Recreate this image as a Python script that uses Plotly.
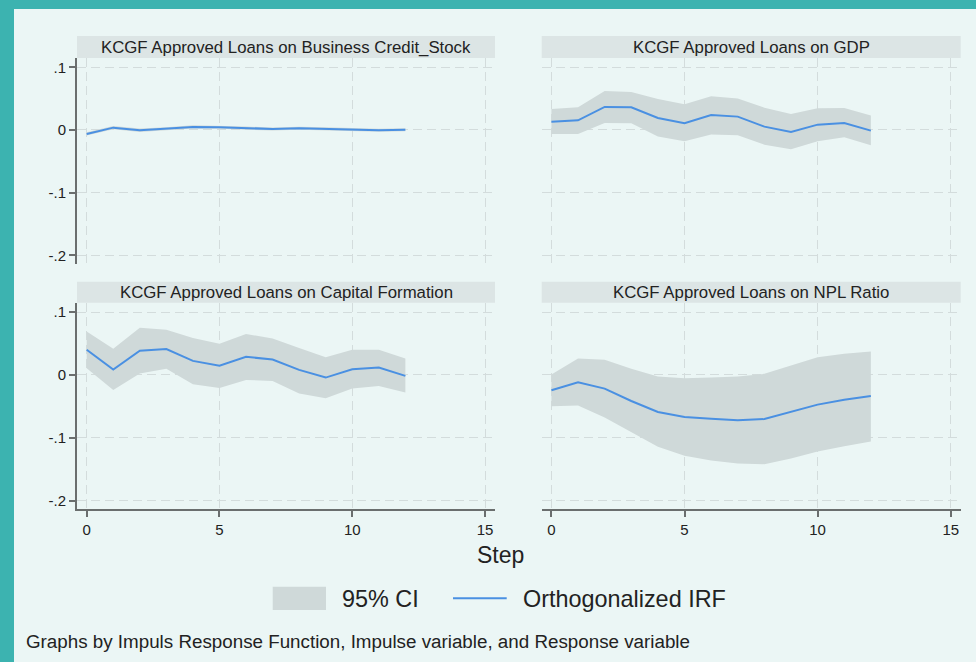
import plotly.graph_objects as go

W, H = 976, 662

steps = list(range(13))

panel_titles = [
    "KCGF Approved Loans on Business Credit_Stock",
    "KCGF Approved Loans on GDP",
    "KCGF Approved Loans on Capital Formation",
    "KCGF Approved Loans on NPL Ratio",
]

# Business Credit_Stock
bcs_irf = [-0.0064, 0.0037, -0.0005, 0.0016, 0.0048, 0.0043, 0.0030, 0.0016, 0.0027, 0.0020, 0.0010, -0.0005, 0.0005]
bcs_lo = [-0.0090, 0.0010, -0.0032, -0.0010, 0.0022, 0.0018, 0.0006, -0.0008, 0.0003, -0.0004, -0.0014, -0.0029, -0.0019]
bcs_hi = [-0.0038, 0.0064, 0.0022, 0.0042, 0.0074, 0.0068, 0.0054, 0.0040, 0.0051, 0.0044, 0.0034, 0.0019, 0.0029]

# GDP
gdp_irf = [0.0133, 0.0154, 0.0367, 0.0362, 0.0191, 0.0106, 0.0239, 0.0213, 0.0053, -0.0032, 0.0085, 0.0112, -0.0011]
gdp_lo = [-0.0064, -0.0064, 0.0112, 0.0106, -0.0106, -0.0181, -0.0074, -0.0085, -0.0234, -0.0309, -0.0181, -0.0117, -0.0245]
gdp_hi = [0.0335, 0.0362, 0.0622, 0.0606, 0.0495, 0.0410, 0.0537, 0.0500, 0.0356, 0.0255, 0.0346, 0.0351, 0.0229]

# Capital Formation
cf_irf = [0.0399, 0.0085, 0.0383, 0.0410, 0.0223, 0.0144, 0.0287, 0.0245, 0.0080, -0.0043, 0.0090, 0.0117, -0.0016]
cf_lo = [0.0106, -0.0239, 0.0021, 0.0096, -0.0149, -0.0207, -0.0080, -0.0096, -0.0298, -0.0372, -0.0218, -0.0176, -0.0282]
cf_hi = [0.0691, 0.0415, 0.0750, 0.0718, 0.0585, 0.0495, 0.0649, 0.0580, 0.0426, 0.0282, 0.0399, 0.0399, 0.0261]

# NPL Ratio
npl_irf = [-0.0245, -0.0117, -0.0218, -0.0415, -0.0590, -0.0670, -0.0697, -0.0723, -0.0702, -0.0585, -0.0473, -0.0394, -0.0335]
npl_lo = [-0.0500, -0.0489, -0.0676, -0.0915, -0.1144, -0.1287, -0.1362, -0.1410, -0.1420, -0.1330, -0.1218, -0.1134, -0.1059]
npl_hi = [0.0005, 0.0260, 0.0239, 0.0096, -0.0027, -0.0053, -0.0043, -0.0027, 0.0016, 0.0154, 0.0282, 0.0335, 0.0372]

x_tickvals = [0, 5, 10, 15]
x_ticktext = ["0", "5", "10", "15"]
y_tickvals = [0.1, 0, -0.1, -0.2]
y_ticktext = [".1", "0", "-.1", "-.2"]

legend_ci = "95% CI"
legend_irf = "Orthogonalized IRF"
x_title = "Step"
note_text = "Graphs by Impuls Response Function, Impulse variable, and Response variable"

series = [
    (bcs_irf, bcs_lo, bcs_hi),
    (gdp_irf, gdp_lo, gdp_hi),
    (cf_irf, cf_lo, cf_hi),
    (npl_irf, npl_lo, npl_hi),
]

# ---- styling ----
FONT = "Liberation Sans, Arial, Helvetica, sans-serif"
TEAL = "#3CB3B0"
BG = "#EBF6F5"
STRIP = "#DCE5E5"
CI_FILL = "#CFD9D9"
BLUE = "#4A90E2"
GRID = "#D3DCDC"
AXIS = "#6A6E6E"
TXT = "#222222"


def px(x):
    return x / W


def py(y):
    return 1 - y / H


# plot area pixel boxes: (x0, x1, y0_top, y1_bottom)
boxes = [
    (77, 495, 58, 264),
    (541.7, 960.7, 58, 264),
    (77, 495, 302.7, 509.3),
    (541.7, 960.7, 302.7, 509.3),
]
strips = [
    (77, 495, 36, 58),
    (541.7, 960.7, 36, 58),
    (77, 495, 281.7, 302.7),
    (541.7, 960.7, 281.7, 302.7),
]

fig = go.Figure()
layout = dict(
    width=W, height=H, autosize=False,
    margin=dict(l=0, r=0, t=0, b=0, pad=0),
    paper_bgcolor=TEAL, plot_bgcolor=BG,
    showlegend=False,
    font=dict(family=FONT, color=TXT),
)

XR = [-0.365, 15.375]
YR = [-0.2138, 0.1148]

for i, ((irf, lo, hi), (x0, x1, yt, yb)) in enumerate(zip(series, boxes)):
    n = i + 1
    xa = "x" if n == 1 else f"x{n}"
    ya = "y" if n == 1 else f"y{n}"
    fig.add_trace(go.Scatter(x=steps, y=lo, mode="lines", line=dict(width=0, color=CI_FILL),
                             xaxis=xa, yaxis=ya, hoverinfo="skip"))
    fig.add_trace(go.Scatter(x=steps, y=hi, mode="lines", line=dict(width=0, color=CI_FILL),
                             fill="tonexty", fillcolor=CI_FILL, xaxis=xa, yaxis=ya, hoverinfo="skip"))
    fig.add_trace(go.Scatter(x=steps, y=irf, mode="lines", line=dict(width=2, color=BLUE),
                             xaxis=xa, yaxis=ya))
    bottom = i >= 2
    left = i % 2 == 0
    xkey = "xaxis" if n == 1 else f"xaxis{n}"
    ykey = "yaxis" if n == 1 else f"yaxis{n}"
    layout[xkey] = dict(
        domain=[px(x0), px(x1)], anchor=ya, range=XR,
        tickvals=x_tickvals, ticktext=x_ticktext,
        showgrid=True, gridcolor=GRID, gridwidth=1, griddash="9px,5px",
        zeroline=False,
        showline=bottom, linecolor=AXIS, linewidth=2,
        ticks="outside" if bottom else "", ticklen=6, tickwidth=1.5, tickcolor=AXIS,
        showticklabels=bottom, tickfont=dict(size=15, color=TXT, family=FONT),
        fixedrange=True,
    )
    layout[ykey] = dict(
        domain=[py(yb), py(yt)], anchor=xa, range=YR,
        tickvals=y_tickvals, ticktext=y_ticktext,
        showgrid=True, gridcolor=GRID, gridwidth=1, griddash="9px,5px",
        zeroline=False,
        showline=left, linecolor=AXIS, linewidth=2,
        ticks="outside" if left else "", ticklen=6, tickwidth=1.5, tickcolor=AXIS,
        showticklabels=left, tickfont=dict(size=15, color=TXT, family=FONT),
        fixedrange=True,
    )

shapes = [
    dict(type="rect", xref="paper", yref="paper", x0=px(14), x1=1, y0=0, y1=py(9),
         fillcolor=BG, line=dict(width=0), layer="below"),
]
annotations = []
for (x0, x1, yt, yb), title in zip(strips, panel_titles):
    shapes.append(dict(type="rect", xref="paper", yref="paper", x0=px(x0), x1=px(x1),
                       y0=py(yb), y1=py(yt), fillcolor=STRIP, line=dict(width=0), layer="below"))
    annotations.append(dict(xref="paper", yref="paper", x=px((x0 + x1) / 2), y=py((yt + yb) / 2 + 0.5),
                            text=title, showarrow=False, xanchor="center", yanchor="middle",
                            font=dict(size=16.8, color=TXT, family=FONT)))

# x axis title
annotations.append(dict(xref="paper", yref="paper", x=px(500.5), y=py(555), text=x_title,
                        showarrow=False, xanchor="center", yanchor="middle",
                        font=dict(size=23, color=TXT, family=FONT)))
# legend
shapes.append(dict(type="rect", xref="paper", yref="paper", x0=px(272.7), x1=px(326),
                   y0=py(610), y1=py(586.7), fillcolor=CI_FILL, line=dict(width=0)))
shapes.append(dict(type="line", xref="paper", yref="paper", x0=px(453), x1=px(506.7),
                   y0=py(598.3), y1=py(598.3), line=dict(color=BLUE, width=2)))
annotations.append(dict(xref="paper", yref="paper", x=px(339.5), y=py(598.5), text=legend_ci,
                        showarrow=False, xanchor="left", yanchor="middle",
                        font=dict(size=23.4, color=TXT, family=FONT)))
annotations.append(dict(xref="paper", yref="paper", x=px(520.5), y=py(598.5), text=legend_irf,
                        showarrow=False, xanchor="left", yanchor="middle",
                        font=dict(size=23.4, color=TXT, family=FONT)))
# note
annotations.append(dict(xref="paper", yref="paper", x=px(23.5), y=py(641), text=note_text,
                        showarrow=False, xanchor="left", yanchor="middle",
                        font=dict(size=18.8, color=TXT, family=FONT)))

layout["shapes"] = shapes
layout["annotations"] = annotations
fig.update_layout(**layout)

fig.write_html("out.html", config={"displayModeBar": False},
               post_script="document.body.style.margin='0';document.body.style.padding='0';")
